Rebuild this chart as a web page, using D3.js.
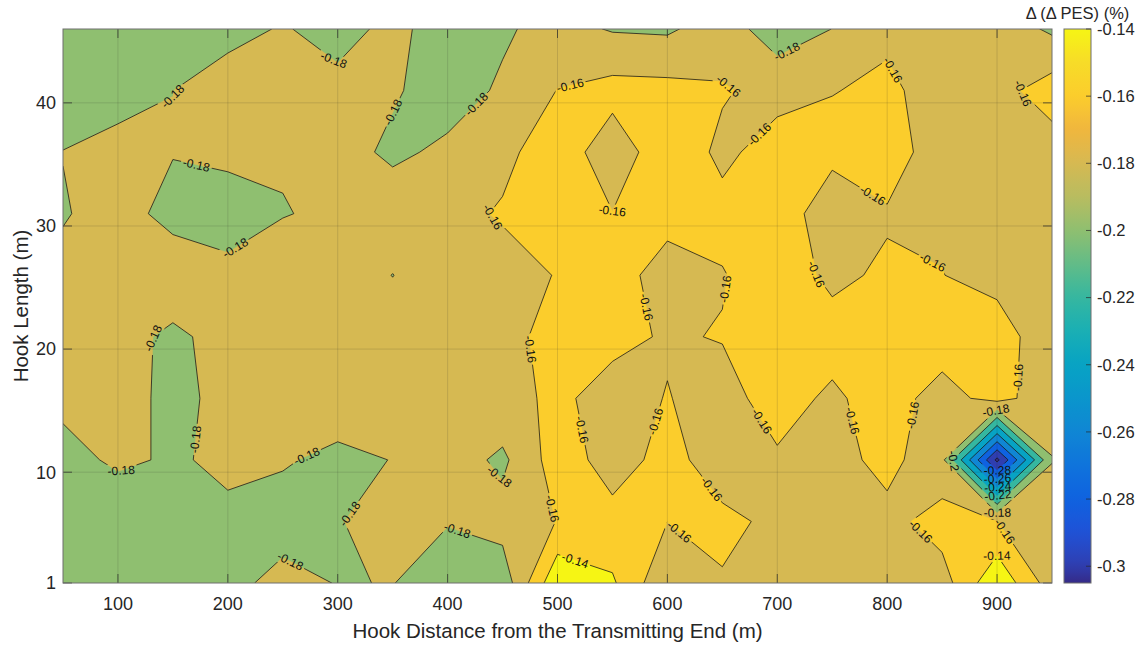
<!DOCTYPE html>
<html>
<head>
<meta charset="utf-8">
<script src="https://cdn.jsdelivr.net/npm/d3@7"></script>
<style>
  html, body { margin: 0; padding: 0; background: #fff; }
  svg { display: block; font-family: "Liberation Sans", Arial, Helvetica, sans-serif; }
</style>
</head>
<body>
<div id="chart"></div>
<script>
// sample grid: hook distance (m) along x, hook length (m) along y
const hookDistance = [50, 100, 150, 200, 250, 300, 350, 400, 450, 500, 550, 600, 650, 700, 750, 800, 850, 900, 950];
const hookLength = [1, 6, 11, 16, 21, 26, 31, 36, 41, 46];

// delta(delta PES) in %, one array per hook length
const pesLen1  = [-0.195, -0.195, -0.190, -0.1862, -0.1735, -0.1808, -0.1795, -0.190, -0.1926, -0.123, -0.1372, -0.177, -0.1614, -0.168, -0.170, -0.170, -0.1687, -0.124, -0.1705];
const pesLen6  = [-0.195, -0.1928, -0.192, -0.1835, -0.189, -0.1803, -0.1778, -0.179, -0.172, -0.1595, -0.154, -0.1598, -0.1561, -0.1635, -0.168, -0.1666, -0.1512, -0.1598, -0.172];
const pesLen11 = [-0.186, -0.177, -0.182, -0.1766, -0.178, -0.185, -0.1795, -0.170, -0.184, -0.150, -0.168, -0.154, -0.169, -0.1622, -0.168, -0.1533, -0.175, -0.305, -0.1805];
const pesLen16 = [-0.1758, -0.171, -0.186, -0.1738, -0.172, -0.168, -0.1728, -0.170, -0.165, -0.157, -0.166, -0.1594, -0.166, -0.1529, -0.1632, -0.1513, -0.168, -0.1526, -0.173];
const pesLen21 = [-0.172, -0.1725, -0.1842, -0.1725, -0.170, -0.172, -0.171, -0.168, -0.1655, -0.154, -0.156, -0.1615, -0.1592, -0.157, -0.1526, -0.148, -0.1494, -0.152, -0.171];
const pesLen26 = [-0.1736, -0.170, -0.1658, -0.1741, -0.167, -0.170, -0.1803, -0.168, -0.1684, -0.159, -0.155, -0.165, -0.161, -0.150, -0.164, -0.157, -0.1597, -0.1653, -0.170];
const pesLen31 = [-0.1817, -0.171, -0.1873, -0.190, -0.181, -0.176, -0.169, -0.1666, -0.1579, -0.152, -0.1595, -0.156, -0.1543, -0.1485, -0.172, -0.162, -0.162, -0.172, -0.170];
const pesLen36 = [-0.1795, -0.1732, -0.179, -0.1753, -0.178, -0.1729, -0.1835, -0.1764, -0.1654, -0.148, -0.172, -0.147, -0.1641, -0.152, -0.155, -0.149, -0.172, -0.172, -0.1695];
const pesLen41 = [-0.1947, -0.188, -0.1801, -0.1694, -0.172, -0.1737, -0.178, -0.188, -0.1775, -0.1595, -0.153, -0.1539, -0.1583, -0.166, -0.1605, -0.1574, -0.1658, -0.1669, -0.1505];
const pesLen46 = [-0.200, -0.198, -0.192, -0.1868, -0.1783, -0.1877, -0.1744, -0.190, -0.1825, -0.1732, -0.1815, -0.1829, -0.1697, -0.191, -0.1798, -0.1626, -0.172, -0.1683, -0.1833];

const contourLevels = [-0.3, -0.28, -0.26, -0.24, -0.22, -0.2, -0.18, -0.16, -0.14];
const xTicks = [100, 200, 300, 400, 500, 600, 700, 800, 900];
const yTicks = [1, 10, 20, 30, 40];

// parula-like colormap as seen on the colorbar
const cmapStops = [-0.305, -0.30, -0.29, -0.28, -0.27, -0.26, -0.25, -0.24, -0.23, -0.22, -0.21, -0.20, -0.19, -0.18, -0.17, -0.16, -0.15, -0.14];
const cmapColors = ['#352a87', '#2f3eb0', '#2052d6', '#0f62e0', '#0f74dc', '#1086d4', '#0a96cc', '#07a3c4', '#1aafb4', '#35b7a0', '#62bc88', '#8fbf70', '#b8bc60', '#d6b952', '#f0b63e', '#fbcd2c', '#f7dc28', '#f6f514'];

const W = 1143, H = 648;
const plot = {left: 63, right: 1052, top: 29, bottom: 583};
const cbar = {left: 1064, width: 27};

const rows = [pesLen1, pesLen6, pesLen11, pesLen16, pesLen21, pesLen26, pesLen31, pesLen36, pesLen41, pesLen46];
const values = rows.flat();
const nx = hookDistance.length, ny = hookLength.length;
const cMin = d3.min(values), cMax = d3.max(contourLevels);

const x = d3.scaleLinear().domain(d3.extent(hookDistance)).range([plot.left, plot.right]);
const y = d3.scaleLinear().domain(d3.extent(hookLength)).range([plot.bottom, plot.top]);
const color = d3.scaleLinear().domain(cmapStops).range(cmapColors).interpolate(d3.interpolateRgb).clamp(true);
const fmt = v => String(+v.toFixed(2));

// d3.contours puts sample i at i + 0.5
const stepX = hookDistance[1] - hookDistance[0], stepY = hookLength[1] - hookLength[0];
const gx = g => x(hookDistance[0] + (g - 0.5) * stepX);
const gy = g => y(hookLength[0] + (g - 0.5) * stepY);
const path = d3.geoPath(d3.geoTransform({
  point(a, b) { this.stream.point(gx(a), gy(b)); }
}));

const contours = d3.contours().size([nx, ny]).thresholds(contourLevels)(values);

const svg = d3.select('#chart').append('svg')
  .attr('width', W).attr('height', H);
const defs = svg.append('defs');

defs.append('clipPath').attr('id', 'plotClip')
  .append('rect')
    .attr('x', plot.left).attr('y', plot.top)
    .attr('width', plot.right - plot.left).attr('height', plot.bottom - plot.top);

const mask = defs.append('mask').attr('id', 'gapMask')
  .attr('maskUnits', 'userSpaceOnUse')
  .attr('x', 0).attr('y', 0).attr('width', W).attr('height', H);
mask.append('rect').attr('width', W).attr('height', H).attr('fill', '#fff');

// filled bands
const fills = svg.append('g').attr('clip-path', 'url(#plotClip)');
fills.append('rect')
  .attr('x', plot.left).attr('y', plot.top)
  .attr('width', plot.right - plot.left).attr('height', plot.bottom - plot.top)
  .attr('fill', color(cMin));
fills.selectAll('path')
  .data(contours)
  .enter().append('path')
    .attr('d', path)
    .attr('fill', d => color(d.value))
    .attr('stroke', d => color(d.value))
    .attr('stroke-width', 0.3);

// grid
const grid = svg.append('g')
  .attr('stroke', '#262626').attr('stroke-opacity', 0.15).attr('stroke-width', 1);
grid.selectAll('.gx')
  .data(xTicks)
  .enter().append('line')
    .attr('x1', d => x(d)).attr('x2', d => x(d))
    .attr('y1', plot.top).attr('y2', plot.bottom);
grid.selectAll('.gy')
  .data(yTicks.filter(d => y(d) > plot.top + 1 && y(d) < plot.bottom - 1))
  .enter().append('line')
    .attr('y1', d => y(d)).attr('y2', d => y(d))
    .attr('x1', plot.left).attr('x2', plot.right);

// contour lines
const lines = svg.append('g')
  .attr('clip-path', 'url(#plotClip)')
  .append('g')
    .attr('mask', 'url(#gapMask)');
lines.selectAll('path')
  .data(contours)
  .enter().append('path')
    .attr('d', path)
    .attr('fill', 'none')
    .attr('stroke', '#1a1a1a')
    .attr('stroke-width', 0.8);

// inline labels along each line, the line is broken under the text
const inside = p => p[0] >= plot.left - 0.5 && p[0] <= plot.right + 0.5 &&
  p[1] >= plot.top - 0.5 && p[1] <= plot.bottom + 0.5;

function runsOf(ring) {
  const pts = ring.map(([a, b]) => [gx(a), gy(b)]);
  const n = pts.length - 1;
  const start = pts.findIndex(p => !inside(p));
  if (start < 0) return [pts];
  const runs = [];
  let cur = [];
  for (let i = 0; i <= n; i++) {
    const p = pts[(start + i) % n];
    if (inside(p)) cur.push(p);
    else { if (cur.length > 1) runs.push(cur); cur = []; }
  }
  if (cur.length > 1) runs.push(cur);
  return runs;
}

function pointAt(run, cum, s) {
  s = Math.max(0, Math.min(cum[cum.length - 1], s));
  let i = d3.bisectRight(cum, s) - 1;
  i = Math.max(0, Math.min(run.length - 2, i));
  const seg = cum[i + 1] - cum[i] || 1;
  const t = (s - cum[i]) / seg;
  return [run[i][0] + t * (run[i + 1][0] - run[i][0]), run[i][1] + t * (run[i + 1][1] - run[i][1])];
}

const labelSpacing = 165, minRun = 55;
const labels = [];
contours.forEach(c => {
  c.coordinates.forEach(poly => poly.forEach(ring => {
    runsOf(ring).forEach(run => {
      const cum = [0];
      for (let i = 1; i < run.length; i++) {
        cum.push(cum[i - 1] + Math.hypot(run[i][0] - run[i - 1][0], run[i][1] - run[i - 1][1]));
      }
      const L = cum[cum.length - 1];
      if (L < minRun) return;
      const count = Math.max(1, Math.round(L / labelSpacing));
      for (let k = 0; k < count; k++) {
        const s = L * (k + 0.5) / count;
        const p = pointAt(run, cum, s);
        const a = pointAt(run, cum, s - 9), b = pointAt(run, cum, s + 9);
        let ang = Math.atan2(b[1] - a[1], b[0] - a[0]) * 180 / Math.PI;
        if (ang > 90) ang -= 180;
        if (ang < -90) ang += 180;
        if (p[0] < plot.left + 10 || p[0] > plot.right - 10 || p[1] < plot.top + 6 || p[1] > plot.bottom - 6) continue;
        labels.push({x: p[0], y: p[1], angle: ang, text: fmt(c.value)});
      }
    });
  }));
});

const labelG = svg.append('g').attr('clip-path', 'url(#plotClip)');
labelG.selectAll('text')
  .data(labels)
  .enter().append('text')
    .attr('transform', d => `translate(${d.x},${d.y}) rotate(${d.angle})`)
    .attr('text-anchor', 'middle')
    .attr('dy', '0.35em')
    .style('font-size', '12px')
    .style('fill', '#111')
    .text(d => d.text)
    .each(function (d) { d.w = this.getComputedTextLength(); });

mask.selectAll('.gap')
  .data(labels)
  .enter().append('rect')
    .attr('x', d => -d.w / 2 - 2).attr('y', -6.5)
    .attr('width', d => d.w + 4).attr('height', 13)
    .attr('transform', d => `translate(${d.x},${d.y}) rotate(${d.angle})`)
    .attr('fill', '#000');

// ticks (inward, on all four sides) and box
const tickLen = 9;
const ticks = svg.append('g').attr('stroke', '#262626').attr('stroke-width', 0.7);
xTicks.forEach(v => {
  ticks.append('line').attr('x1', x(v)).attr('x2', x(v)).attr('y1', plot.bottom).attr('y2', plot.bottom - tickLen);
  ticks.append('line').attr('x1', x(v)).attr('x2', x(v)).attr('y1', plot.top).attr('y2', plot.top + tickLen);
});
yTicks.forEach(v => {
  ticks.append('line').attr('y1', y(v)).attr('y2', y(v)).attr('x1', plot.left).attr('x2', plot.left + tickLen);
  ticks.append('line').attr('y1', y(v)).attr('y2', y(v)).attr('x1', plot.right).attr('x2', plot.right - tickLen);
});
svg.append('rect')
  .attr('x', plot.left).attr('y', plot.top)
  .attr('width', plot.right - plot.left).attr('height', plot.bottom - plot.top)
  .attr('fill', 'none').attr('stroke', '#6e6e6e').attr('stroke-width', 1);

// tick labels
svg.append('g').selectAll('text')
  .data(xTicks)
  .enter().append('text')
    .attr('x', d => x(d)).attr('y', 610)
    .attr('text-anchor', 'middle')
    .style('font-size', '18px').style('fill', '#262626')
    .text(d => d);
svg.append('g').selectAll('text')
  .data(yTicks)
  .enter().append('text')
    .attr('x', plot.left - 7).attr('y', d => y(d))
    .attr('dy', '0.35em')
    .attr('text-anchor', 'end')
    .style('font-size', '18px').style('fill', '#262626')
    .text(d => d);

// axis titles
svg.append('text')
  .attr('x', (plot.left + plot.right) / 2).attr('y', 638)
  .attr('text-anchor', 'middle')
  .style('font-size', '20.5px').style('fill', '#262626')
  .text('Hook Distance from the Transmitting End (m)');
svg.append('text')
  .attr('transform', `translate(28,${(plot.top + plot.bottom) / 2}) rotate(-90)`)
  .attr('text-anchor', 'middle')
  .style('font-size', '20.5px').style('fill', '#262626')
  .text('Hook Length (m)');

// colorbar
const cb = d3.scaleLinear().domain([cMin, cMax]).range([plot.bottom, plot.top]);
const grad = defs.append('linearGradient').attr('id', 'cbGrad')
  .attr('x1', 0).attr('y1', 1).attr('x2', 0).attr('y2', 0);
d3.range(0, 1.0001, 0.02).forEach(t => {
  grad.append('stop').attr('offset', t).attr('stop-color', color(cMin + t * (cMax - cMin)));
});
svg.append('rect')
  .attr('x', cbar.left).attr('y', plot.top)
  .attr('width', cbar.width).attr('height', plot.bottom - plot.top)
  .attr('fill', 'url(#cbGrad)')
  .attr('stroke', '#6e6e6e').attr('stroke-width', 1);
const cbTicks = svg.append('g');
cbTicks.selectAll('line')
  .data(contourLevels)
  .enter().append('line')
    .attr('x1', cbar.left + cbar.width - 5).attr('x2', cbar.left + cbar.width)
    .attr('y1', d => cb(d)).attr('y2', d => cb(d))
    .attr('stroke', '#262626').attr('stroke-width', 0.7);
cbTicks.selectAll('text')
  .data(contourLevels)
  .enter().append('text')
    .attr('x', cbar.left + cbar.width + 6).attr('y', d => cb(d))
    .attr('dy', '0.35em')
    .style('font-size', '16.5px').style('fill', '#262626')
    .text(d => fmt(d));
svg.append('text')
  .attr('x', cbar.left + cbar.width / 2).attr('y', 19)
  .attr('text-anchor', 'middle')
  .style('font-size', '16.5px').style('fill', '#262626')
  .text('\u0394 (\u0394 PES) (%)');
</script>
</body>
</html>
